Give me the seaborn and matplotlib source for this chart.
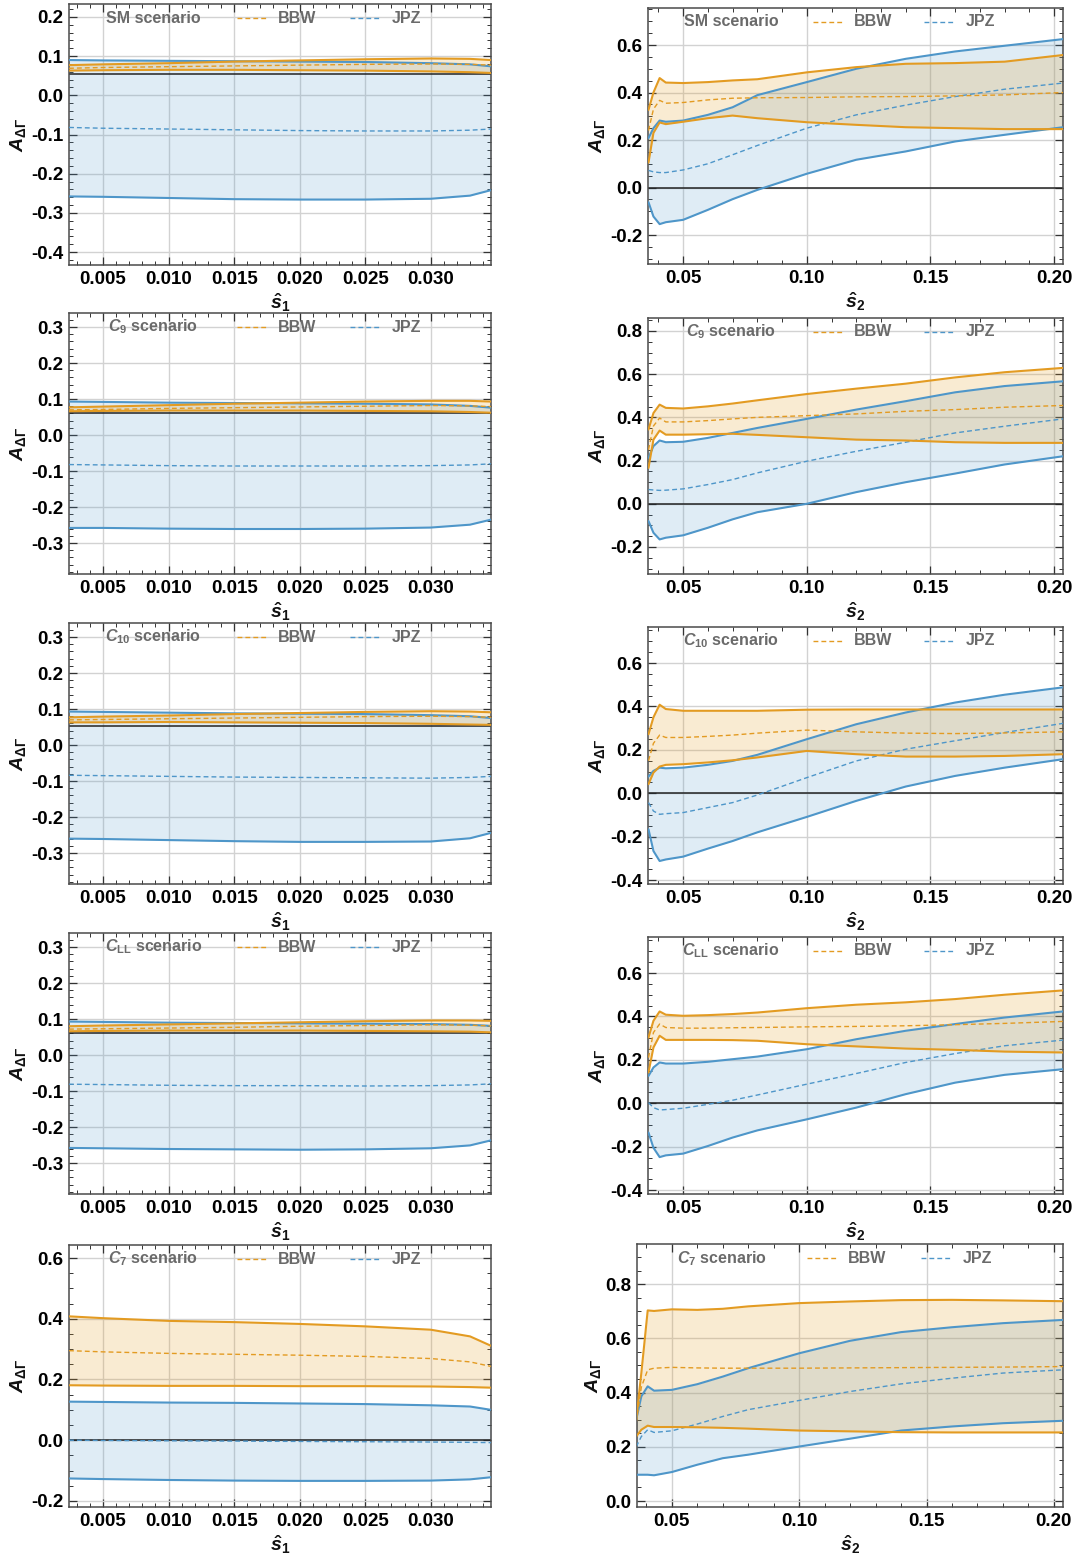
import matplotlib
matplotlib.use('Agg')
import matplotlib.pyplot as plt
import seaborn as sns
import numpy as np
import pandas as pd
from matplotlib.ticker import MultipleLocator, FormatStrFormatter

# ---------------- x grids ----------------
S1 = [0.0024, 0.005, 0.010, 0.015, 0.020, 0.025, 0.030, 0.033, 0.0346]
S2 = [0.036, 0.038, 0.0405, 0.043, 0.05, 0.06, 0.07, 0.08, 0.10, 0.12, 0.14, 0.16, 0.18, 0.2036]

# ---------------- left column (s1) ----------------
sm1_bbw_hi = [0.077, 0.079, 0.082, 0.086, 0.089, 0.092, 0.094, 0.093, 0.090]
sm1_bbw_mid = [0.069, 0.071, 0.073, 0.075, 0.077, 0.079, 0.080, 0.079, 0.077]
sm1_bbw_lo = [0.063, 0.064, 0.065, 0.065, 0.064, 0.063, 0.061, 0.059, 0.057]
sm1_jpz_hi = [0.090, 0.089, 0.088, 0.087, 0.086, 0.085, 0.082, 0.079, 0.074]
sm1_jpz_mid = [-0.082, -0.084, -0.086, -0.088, -0.090, -0.091, -0.091, -0.089, -0.086]
sm1_jpz_lo = [-0.258, -0.259, -0.262, -0.265, -0.266, -0.266, -0.264, -0.256, -0.242]

c9_1_bbw_hi = [0.077, 0.079, 0.083, 0.087, 0.090, 0.093, 0.095, 0.095, 0.093]
c9_1_bbw_mid = [0.070, 0.071, 0.074, 0.076, 0.078, 0.080, 0.082, 0.081, 0.079]
c9_1_bbw_lo = [0.066, 0.067, 0.068, 0.068, 0.068, 0.067, 0.066, 0.064, 0.062]
c9_1_jpz_hi = [0.093, 0.092, 0.090, 0.089, 0.088, 0.087, 0.085, 0.081, 0.076]
c9_1_jpz_mid = [-0.082, -0.083, -0.085, -0.086, -0.086, -0.086, -0.085, -0.083, -0.080]
c9_1_jpz_lo = [-0.258, -0.258, -0.260, -0.261, -0.261, -0.260, -0.257, -0.249, -0.235]

c10_1_bbw_hi = [0.077, 0.079, 0.082, 0.086, 0.089, 0.092, 0.094, 0.093, 0.091]
c10_1_bbw_mid = [0.070, 0.071, 0.073, 0.075, 0.077, 0.079, 0.080, 0.079, 0.077]
c10_1_bbw_lo = [0.063, 0.063, 0.064, 0.063, 0.062, 0.061, 0.059, 0.057, 0.056]
c10_1_jpz_hi = [0.093, 0.092, 0.090, 0.088, 0.087, 0.086, 0.083, 0.080, 0.075]
c10_1_jpz_mid = [-0.084, -0.085, -0.087, -0.089, -0.090, -0.091, -0.092, -0.090, -0.087]
c10_1_jpz_lo = [-0.260, -0.261, -0.264, -0.267, -0.269, -0.269, -0.268, -0.259, -0.244]

cll1_bbw_hi = [0.080, 0.082, 0.085, 0.088, 0.091, 0.094, 0.096, 0.096, 0.095]
cll1_bbw_mid = [0.072, 0.073, 0.075, 0.077, 0.080, 0.082, 0.084, 0.083, 0.081]
cll1_bbw_lo = [0.066, 0.067, 0.068, 0.068, 0.068, 0.067, 0.066, 0.065, 0.063]
cll1_jpz_hi = [0.093, 0.092, 0.090, 0.089, 0.088, 0.087, 0.086, 0.084, 0.081]
cll1_jpz_mid = [-0.081, -0.082, -0.084, -0.085, -0.085, -0.086, -0.085, -0.083, -0.080]
cll1_jpz_lo = [-0.258, -0.259, -0.261, -0.262, -0.263, -0.262, -0.259, -0.251, -0.237]

c7_1_bbw_hi = [0.408, 0.402, 0.393, 0.389, 0.383, 0.375, 0.364, 0.342, 0.311]
c7_1_bbw_mid = [0.295, 0.291, 0.286, 0.283, 0.280, 0.276, 0.269, 0.258, 0.243]
c7_1_bbw_lo = [0.181, 0.180, 0.179, 0.179, 0.178, 0.178, 0.177, 0.175, 0.173]
c7_1_jpz_hi = [0.127, 0.126, 0.124, 0.123, 0.121, 0.119, 0.115, 0.111, 0.100]
c7_1_jpz_mid = [0.000, -0.001, -0.002, -0.003, -0.004, -0.005, -0.006, -0.007, -0.008]
c7_1_jpz_lo = [-0.126, -0.128, -0.131, -0.133, -0.134, -0.134, -0.133, -0.129, -0.122]

# ---------------- right column (s2) ----------------
sm2_bbw_hi = [0.327, 0.40, 0.461, 0.442, 0.440, 0.444, 0.451, 0.456, 0.485, 0.507, 0.521, 0.524, 0.530, 0.558]
sm2_bbw_mid = [0.24, 0.33, 0.367, 0.355, 0.358, 0.369, 0.376, 0.378, 0.379, 0.382, 0.383, 0.386, 0.390, 0.400]
sm2_bbw_lo = [0.105, 0.23, 0.274, 0.267, 0.277, 0.292, 0.303, 0.292, 0.275, 0.264, 0.254, 0.250, 0.246, 0.246]
sm2_jpz_hi = [0.208, 0.25, 0.282, 0.277, 0.282, 0.306, 0.338, 0.389, 0.444, 0.500, 0.542, 0.573, 0.597, 0.625]
sm2_jpz_mid = [0.072, 0.066, 0.063, 0.063, 0.074, 0.100, 0.138, 0.177, 0.250, 0.306, 0.347, 0.383, 0.414, 0.440]
sm2_jpz_lo = [-0.062, -0.122, -0.154, -0.146, -0.136, -0.094, -0.049, -0.010, 0.058, 0.117, 0.152, 0.194, 0.222, 0.254]

c9_2_bbw_hi = [0.344, 0.42, 0.459, 0.444, 0.441, 0.451, 0.464, 0.479, 0.508, 0.533, 0.556, 0.585, 0.609, 0.629]
c9_2_bbw_mid = [0.25, 0.36, 0.397, 0.379, 0.379, 0.385, 0.393, 0.400, 0.408, 0.416, 0.428, 0.436, 0.447, 0.455]
c9_2_bbw_lo = [0.166, 0.297, 0.339, 0.320, 0.320, 0.322, 0.324, 0.319, 0.308, 0.297, 0.293, 0.285, 0.282, 0.282]
c9_2_jpz_hi = [0.213, 0.267, 0.293, 0.285, 0.287, 0.305, 0.328, 0.351, 0.393, 0.436, 0.475, 0.516, 0.545, 0.567]
c9_2_jpz_mid = [0.066, 0.064, 0.062, 0.063, 0.069, 0.089, 0.112, 0.143, 0.197, 0.243, 0.285, 0.328, 0.359, 0.393]
c9_2_jpz_lo = [-0.080, -0.134, -0.165, -0.157, -0.146, -0.111, -0.072, -0.039, 0.000, 0.054, 0.100, 0.140, 0.182, 0.220]

c10_2_bbw_hi = [0.272, 0.35, 0.408, 0.388, 0.380, 0.380, 0.380, 0.380, 0.385, 0.386, 0.386, 0.386, 0.386, 0.386]
c10_2_bbw_mid = [0.15, 0.23, 0.268, 0.257, 0.257, 0.262, 0.268, 0.277, 0.291, 0.283, 0.277, 0.275, 0.278, 0.283]
c10_2_bbw_lo = [0.042, 0.095, 0.123, 0.131, 0.134, 0.142, 0.152, 0.165, 0.195, 0.180, 0.169, 0.169, 0.172, 0.180]
c10_2_jpz_hi = [0.077, 0.103, 0.118, 0.115, 0.118, 0.131, 0.149, 0.177, 0.249, 0.318, 0.372, 0.418, 0.454, 0.488]
c10_2_jpz_mid = [-0.043, -0.082, -0.097, -0.094, -0.089, -0.066, -0.043, -0.008, 0.072, 0.149, 0.203, 0.242, 0.280, 0.322]
c10_2_jpz_lo = [-0.166, -0.266, -0.312, -0.305, -0.292, -0.255, -0.220, -0.180, -0.109, -0.035, 0.031, 0.080, 0.118, 0.157]

cll2_bbw_hi = [0.303, 0.38, 0.423, 0.408, 0.403, 0.406, 0.411, 0.418, 0.438, 0.454, 0.465, 0.480, 0.500, 0.520]
cll2_bbw_mid = [0.21, 0.326, 0.365, 0.349, 0.346, 0.346, 0.348, 0.349, 0.352, 0.354, 0.357, 0.362, 0.368, 0.377]
cll2_bbw_lo = [0.142, 0.257, 0.311, 0.292, 0.292, 0.292, 0.291, 0.288, 0.272, 0.262, 0.252, 0.246, 0.238, 0.234]
cll2_jpz_hi = [0.126, 0.165, 0.188, 0.183, 0.183, 0.191, 0.203, 0.215, 0.249, 0.295, 0.334, 0.365, 0.395, 0.423]
cll2_jpz_mid = [0.003, -0.020, -0.031, -0.029, -0.023, -0.005, 0.014, 0.038, 0.088, 0.137, 0.188, 0.229, 0.265, 0.291]
cll2_jpz_lo = [-0.135, -0.205, -0.248, -0.240, -0.232, -0.197, -0.158, -0.125, -0.074, -0.020, 0.042, 0.095, 0.131, 0.157]

c7_2_bbw_hi = [0.30, 0.472, 0.703, 0.701, 0.707, 0.705, 0.709, 0.718, 0.730, 0.736, 0.741, 0.742, 0.740, 0.737]
c7_2_bbw_mid = [0.29, 0.42, 0.484, 0.490, 0.493, 0.491, 0.490, 0.490, 0.490, 0.491, 0.492, 0.493, 0.494, 0.496]
c7_2_bbw_lo = [0.238, 0.263, 0.278, 0.273, 0.273, 0.272, 0.270, 0.267, 0.260, 0.257, 0.254, 0.253, 0.253, 0.253]
c7_2_jpz_hi = [0.300, 0.386, 0.423, 0.407, 0.410, 0.431, 0.459, 0.490, 0.545, 0.591, 0.623, 0.641, 0.656, 0.668]
c7_2_jpz_mid = [0.200, 0.238, 0.263, 0.253, 0.259, 0.284, 0.312, 0.337, 0.371, 0.404, 0.432, 0.453, 0.472, 0.484]
c7_2_jpz_lo = [0.097, 0.097, 0.097, 0.095, 0.107, 0.134, 0.158, 0.171, 0.201, 0.230, 0.260, 0.275, 0.287, 0.296]

# reference (black) horizontal lines
hline_left = [0.054, 0.060, 0.052, 0.061, 0.0]
hline_right = [0.0, 0.0, 0.0, 0.0, None]

scenario_labels = ['SM scenario', r'$C_{9}$ scenario', r'$C_{10}$ scenario',
                   r'$C_{\rm LL}$ scenario', r'$C_{7}$ scenario']
series_labels = ['BBW', 'JPZ']

left_sets = [
    (sm1_bbw_hi, sm1_bbw_mid, sm1_bbw_lo, sm1_jpz_hi, sm1_jpz_mid, sm1_jpz_lo),
    (c9_1_bbw_hi, c9_1_bbw_mid, c9_1_bbw_lo, c9_1_jpz_hi, c9_1_jpz_mid, c9_1_jpz_lo),
    (c10_1_bbw_hi, c10_1_bbw_mid, c10_1_bbw_lo, c10_1_jpz_hi, c10_1_jpz_mid, c10_1_jpz_lo),
    (cll1_bbw_hi, cll1_bbw_mid, cll1_bbw_lo, cll1_jpz_hi, cll1_jpz_mid, cll1_jpz_lo),
    (c7_1_bbw_hi, c7_1_bbw_mid, c7_1_bbw_lo, c7_1_jpz_hi, c7_1_jpz_mid, c7_1_jpz_lo),
]
right_sets = [
    (sm2_bbw_hi, sm2_bbw_mid, sm2_bbw_lo, sm2_jpz_hi, sm2_jpz_mid, sm2_jpz_lo),
    (c9_2_bbw_hi, c9_2_bbw_mid, c9_2_bbw_lo, c9_2_jpz_hi, c9_2_jpz_mid, c9_2_jpz_lo),
    (c10_2_bbw_hi, c10_2_bbw_mid, c10_2_bbw_lo, c10_2_jpz_hi, c10_2_jpz_mid, c10_2_jpz_lo),
    (cll2_bbw_hi, cll2_bbw_mid, cll2_bbw_lo, cll2_jpz_hi, cll2_jpz_mid, cll2_jpz_lo),
    (c7_2_bbw_hi, c7_2_bbw_mid, c7_2_bbw_lo, c7_2_jpz_hi, c7_2_jpz_mid, c7_2_jpz_lo),
]

left_ylims = [(-0.433, 0.233), (-0.386, 0.339), (-0.386, 0.339), (-0.386, 0.339), (-0.22, 0.643)]
left_ymaj = [0.1, 0.1, 0.1, 0.1, 0.2]
left_ymin = [0.02, 0.02, 0.02, 0.02, 0.05]
right_ylims = [(-0.322, 0.756), (-0.325, 0.86), (-0.418, 0.766), (-0.418, 0.766), (-0.022, 0.948)]
right_xlims = [(0.0358, 0.2036)] * 4 + [(0.0363, 0.2036)]

# ---------------- style ----------------
sns.set_theme(style='ticks')
plt.rcParams['font.family'] = ['Liberation Sans', 'DejaVu Sans']
plt.rcParams['font.weight'] = 'bold'
plt.rcParams['mathtext.fontset'] = 'custom'
plt.rcParams['mathtext.rm'] = 'Liberation Sans:bold'
plt.rcParams['mathtext.it'] = 'Liberation Sans:italic:bold'
plt.rcParams['mathtext.bf'] = 'Liberation Sans:bold'
plt.rcParams['axes.unicode_minus'] = True

ORANGE = '#E39B22'
BLUE = '#4E96C9'
FRAME = '#4a4a4a'
GRID = '#d2d2d2'
LEG = '#6a6a6a'

W, H = 1077, 1558
fig = plt.figure(figsize=(W / 100, H / 100), dpi=100)

LEFT_BOX = [(69, 4, 491, 265), (69, 313, 491, 574), (69, 623, 491, 884),
            (69, 933, 491, 1194), (69, 1245, 491, 1507)]
RIGHT_BOX = [(648, 8, 1063, 264), (648, 318, 1063, 574), (648, 627, 1063, 884),
             (648, 937, 1063, 1194), (637, 1244, 1063, 1507)]


def make_ax(box):
    x0, y0, x1, y1 = box
    return fig.add_axes([x0 / W, 1 - y1 / H, (x1 - x0) / W, (y1 - y0) / H])


def draw(ax, x, sets, hline, xlim, ylim, xmaj, xminr, ymaj, yminr, xfmt, scen, xlab):
    b_hi, b_mid, b_lo, j_hi, j_mid, j_lo = sets
    df = pd.DataFrame({'x': x, 'b_hi': b_hi, 'b_mid': b_mid, 'b_lo': b_lo,
                       'j_hi': j_hi, 'j_mid': j_mid, 'j_lo': j_lo})
    ax.grid(True, which='major', color=GRID, lw=1.0)
    ax.set_axisbelow(True)
    ax.fill_between(df['x'], df['j_lo'], df['j_hi'], color=BLUE, alpha=0.18, lw=0, zorder=1)
    ax.fill_between(df['x'], df['b_lo'], df['b_hi'], color=ORANGE, alpha=0.20, lw=0, zorder=1)
    if hline is not None:
        ax.axhline(hline, color='#222222', lw=1.1, zorder=2)
    for col, c, ls, lw in [('j_hi', BLUE, '-', 1.5), ('j_lo', BLUE, '-', 1.5),
                           ('j_mid', BLUE, (0, (3.5, 2.2)), 1.0),
                           ('b_hi', ORANGE, '-', 1.5), ('b_lo', ORANGE, '-', 1.5),
                           ('b_mid', ORANGE, (0, (3.5, 2.2)), 1.0)]:
        sns.lineplot(data=df, x='x', y=col, ax=ax, color=c, lw=lw, linestyle=ls,
                     sort=False, estimator=None, zorder=3)
    ax.set_xlim(*xlim)
    ax.set_ylim(*ylim)
    ax.xaxis.set_major_locator(MultipleLocator(xmaj))
    ax.xaxis.set_minor_locator(MultipleLocator(xminr))
    ax.yaxis.set_major_locator(MultipleLocator(ymaj))
    ax.yaxis.set_minor_locator(MultipleLocator(yminr))
    ax.xaxis.set_major_formatter(FormatStrFormatter(xfmt))
    ax.yaxis.set_major_formatter(FormatStrFormatter('%.1f'))
    ax.tick_params(which='both', direction='in', top=True, right=True, colors='#333333',
                   labelcolor='black', labelsize=13.5, pad=4)
    ax.tick_params(which='major', length=6, width=0.9)
    ax.tick_params(which='minor', length=3, width=0.7)
    for s in ax.spines.values():
        s.set_color(FRAME)
        s.set_linewidth(1.1)
    ax.set_ylabel(r'$A_{\Delta\Gamma}$', fontsize=14, labelpad=2, color='#111111')
    ax.set_xlabel(xlab, fontsize=14, labelpad=3, color='#111111')
    # in-plot legend row
    ax.text(0.20, 0.946, scen, transform=ax.transAxes, ha='center', va='center',
            fontsize=11.5, fontweight='bold', color=LEG)
    ax.plot([0.398, 0.469], [0.946, 0.946], transform=ax.transAxes, color=ORANGE,
            lw=1.0, linestyle=(0, (3.5, 2.2)))
    ax.text(0.495, 0.946, series_labels[0], transform=ax.transAxes, ha='left', va='center',
            fontsize=11.5, fontweight='bold', color=LEG)
    ax.plot([0.666, 0.739], [0.946, 0.946], transform=ax.transAxes, color=BLUE,
            lw=1.0, linestyle=(0, (3.5, 2.2)))
    ax.text(0.765, 0.946, series_labels[1], transform=ax.transAxes, ha='left', va='center',
            fontsize=11.5, fontweight='bold', color=LEG)


for i in range(5):
    axl = make_ax(LEFT_BOX[i])
    draw(axl, S1, left_sets[i], hline_left[i], (0.0024, 0.0346), left_ylims[i],
         0.005, 0.001, left_ymaj[i], left_ymin[i], '%.3f', scenario_labels[i], r'$\hat{s}_1$')
    axr = make_ax(RIGHT_BOX[i])
    draw(axr, S2, right_sets[i], hline_right[i], right_xlims[i], right_ylims[i],
         0.05, 0.01, 0.2, 0.05, '%.2f', scenario_labels[i], r'$\hat{s}_2$')

fig.savefig('out.png', dpi=100)
